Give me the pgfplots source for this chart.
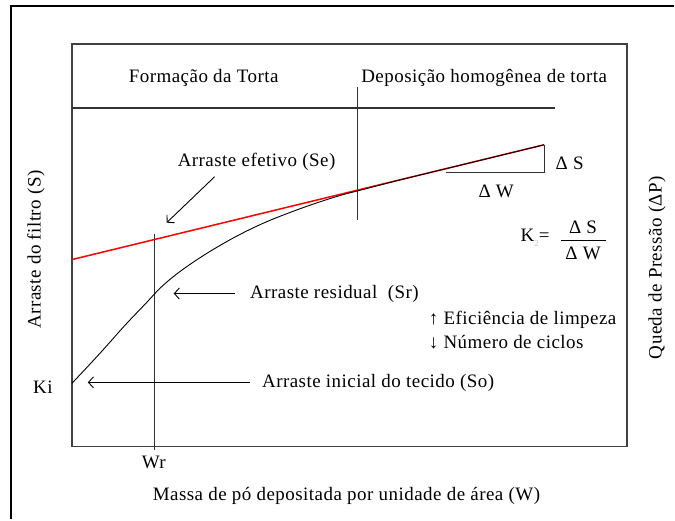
\documentclass[border=0pt]{standalone}
\usepackage{fontspec}
\setmainfont{Liberation Serif}[LetterSpace=2.5]
\usepackage{pgfplots}
\pgfplotsset{compat=1.18}
\usetikzlibrary{arrows.meta}
\begin{document}
\fontsize{19}{22}\selectfont
\begin{tikzpicture}
\begin{axis}[
  scale only axis, width=556pt, height=403pt,
  xmin=72, xmax=628, ymin=44, ymax=447, y dir=reverse,
  xtick=\empty, ytick=\empty, clip=false,
  axis line style={line width=1.4pt, black!75},
]
\path (axis cs:0,0) rectangle (axis cs:675,520);
% outer frame (left and top)
\addplot[black, line width=2.2pt] coordinates {(11,520) (11,6) (675,6)};
% separators
\addplot[black!80, line width=1.4pt] coordinates {(72,108) (556,108)};
\addplot[black!80, line width=1.4pt] coordinates {(358,87) (358,220)};
\addplot[black!80, line width=1.4pt] coordinates {(155,234) (155,451)};
% effective drag line
\addplot[red, line width=1.5pt] coordinates {(72,260) (545,145)};
% drag curve
\addplot[black, line width=0.9pt, smooth, tension=0.6] coordinates {(72,384) (100,354) (125,326) (145,305) (160,289) (175,276) (193,263) (215,249) (240,235) (265,223) (290,213) (315,204) (340,196) (359,191) (400,180.4) (450,168.2) (500,156) (545,145)};
% triangle
\addplot[black!80, line width=1.2pt] coordinates {(447,173) (545,173) (545,145)};
% arrows
\draw[black, line width=0.9pt, -{Straight Barb[length=5pt,width=11pt]}] (axis cs:215,177) -- (axis cs:167,223);
\draw[black, line width=0.9pt, -{Straight Barb[length=5pt,width=11pt]}] (axis cs:235,294) -- (axis cs:174,294);
\draw[black, line width=0.9pt, -{Straight Barb[length=5pt,width=11pt]}] (axis cs:250,383) -- (axis cs:88,383);
% texts
\node at (axis cs:204,78) {Formação da Torta};
\node at (axis cs:485,78) {Deposição homogênea de torta};
\node at (axis cs:257,162) {Arraste efetivo (Se)};
\node[anchor=west] at (axis cs:244,294) {Arraste residual\ \ (Sr)};
\node[anchor=west] at (axis cs:256,384) {Arraste inicial do tecido (So)};
\node[anchor=west] at (axis cs:423,320) {↑ Eficiência de limpeza};
\node[anchor=west] at (axis cs:423,343) {↓ Número de ciclos};
\node at (axis cs:43,388) {Ki};
\node at (axis cs:154,463) {Wr};
\node at (axis cs:347,497) {Massa de pó depositada por unidade de área (W)};
\node[rotate=90] at (axis cs:36,250) {Arraste do filtro (S)};
\node[rotate=90] at (axis cs:658,268) {Queda de Pressão (ΔP)};
\node[anchor=west] at (axis cs:550,164) {Δ S};
\node at (axis cs:497,192) {Δ W};
\node[anchor=east] at (axis cs:557,238) {K\raisebox{-0.6ex}{\fontsize{9}{9}\selectfont\color{gray!50}2}=};
\node at (axis cs:584,228) {Δ S};
\draw[black, line width=0.9pt] (axis cs:562,241) -- (axis cs:607,241);
\node at (axis cs:584,254) {Δ W};
\end{axis}
\end{tikzpicture}
\end{document}
